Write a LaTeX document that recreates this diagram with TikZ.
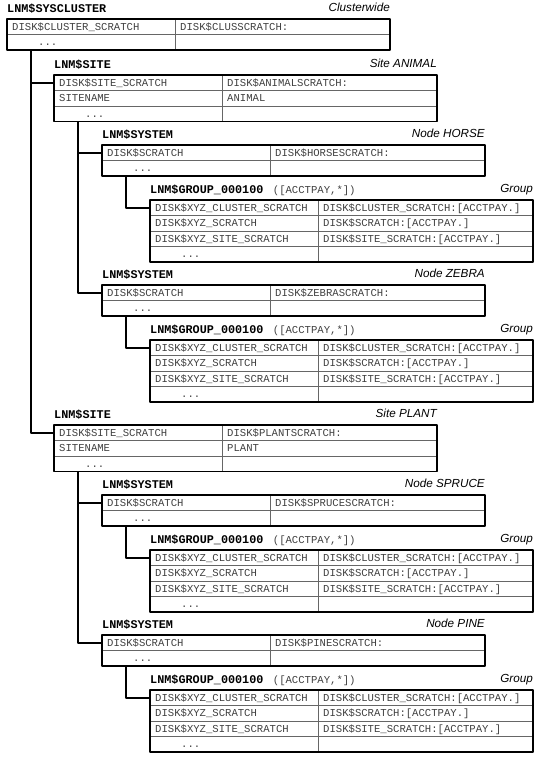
\documentclass[tikz,border=0pt]{standalone}
\usepackage{fontspec}
\setmonofont{Liberation Mono}
\setsansfont{Liberation Sans}
\usetikzlibrary{calc, positioning}
\definecolor{textgray}{gray}{0.25}
\definecolor{linegray}{gray}{0.4}

% one logical name table: name, top left, number of rows, entries, table name, scope
\newcommand{\lnmtab}[6]{%
  \coordinate (#1) at #2;
  \node[lnmhead] (#1-name) at ($(#1)+(0,-6.5)$) {#5};
  \node[scopelbl] (#1-scope) at ($(#1)+(383,-7.5)$) {#6};
  \foreach \lft/\rgt [count=\i] in {#4} {
    \node[cell] (#1-l\i) at ($(#1)+(5,{(\i-1)*15.5+11.3})$) {\lft};
    \node[cell] (#1-r\i) at ($(#1)+(173,{(\i-1)*15.5+11.3})$) {\rgt};
    \draw[rowline] ($(#1)+(0,{\i*15.5})$) -- ++(383,0);
  }
  \node[cell] (#1-dots) at ($(#1)+(31,{(#3-1)*15.5+11.3})$) {...};
  \draw[rowline] ($(#1)+(168,0)$) -- ++(0,{#3*15.5});
  \draw[tabframe] (#1) rectangle ++(383,{#3*15.5});
  \coordinate (#1-in) at ($(#1)+(0,7.75)$);
  \coordinate (#1-out) at ($(#1)+(24,{#3*15.5})$);
}

\begin{document}
\begin{tikzpicture}[x=1pt, y=-1pt, line join=round,
    cell/.style={anchor=base west, inner sep=0pt, text=textgray,
      font=\ttfamily\fontsize{10.6}{12}\selectfont},
    lnmhead/.style={anchor=base west, inner sep=0pt,
      font=\ttfamily\bfseries\fontsize{11.8}{13}\selectfont},
    scopelbl/.style={anchor=base east, inner sep=0pt,
      font=\sffamily\itshape\fontsize{11.7}{13}\selectfont},
    rowline/.style={line width=0.6pt, draw=linegray},
    tabframe/.style={line width=1.3pt},
    link/.style={line width=1.6pt}]
  \useasboundingbox (0,0) rectangle (549,759);

  % clusterwide table
  \lnmtab{cluster}{(7,19)}{2}{DISK\$CLUSTER\_SCRATCH/DISK\$CLUSSCRATCH:}{LNM\$SYSCLUSTER}{Clusterwide}

  % site ANIMAL
  \lnmtab{animal}{(54,75)}{3}{DISK\$SITE\_SCRATCH/DISK\$ANIMALSCRATCH:, SITENAME/ANIMAL}{LNM\$SITE}{Site ANIMAL}
  \lnmtab{horse}{(102,145)}{2}{DISK\$SCRATCH/DISK\$HORSESCRATCH:}{LNM\$SYSTEM}{Node HORSE}
  \lnmtab{horsegrp}{(150,200)}{4}{DISK\$XYZ\_CLUSTER\_SCRATCH/DISK\$CLUSTER\_SCRATCH:[ACCTPAY.],
    DISK\$XYZ\_SCRATCH/DISK\$SCRATCH:[ACCTPAY.],
    DISK\$XYZ\_SITE\_SCRATCH/DISK\$SITE\_SCRATCH:[ACCTPAY.]}{LNM\$GROUP\_000100}{Group}
  \lnmtab{zebra}{(102,285)}{2}{DISK\$SCRATCH/DISK\$ZEBRASCRATCH:}{LNM\$SYSTEM}{Node ZEBRA}
  \lnmtab{zebragrp}{(150,340)}{4}{DISK\$XYZ\_CLUSTER\_SCRATCH/DISK\$CLUSTER\_SCRATCH:[ACCTPAY.],
    DISK\$XYZ\_SCRATCH/DISK\$SCRATCH:[ACCTPAY.],
    DISK\$XYZ\_SITE\_SCRATCH/DISK\$SITE\_SCRATCH:[ACCTPAY.]}{LNM\$GROUP\_000100}{Group}

  % site PLANT
  \lnmtab{plant}{(54,425)}{3}{DISK\$SITE\_SCRATCH/DISK\$PLANTSCRATCH:, SITENAME/PLANT}{LNM\$SITE}{Site PLANT}
  \lnmtab{spruce}{(102,495)}{2}{DISK\$SCRATCH/DISK\$SPRUCESCRATCH:}{LNM\$SYSTEM}{Node SPRUCE}
  \lnmtab{sprucegrp}{(150,550)}{4}{DISK\$XYZ\_CLUSTER\_SCRATCH/DISK\$CLUSTER\_SCRATCH:[ACCTPAY.],
    DISK\$XYZ\_SCRATCH/DISK\$SCRATCH:[ACCTPAY.],
    DISK\$XYZ\_SITE\_SCRATCH/DISK\$SITE\_SCRATCH:[ACCTPAY.]}{LNM\$GROUP\_000100}{Group}
  \lnmtab{pine}{(102,635)}{2}{DISK\$SCRATCH/DISK\$PINESCRATCH:}{LNM\$SYSTEM}{Node PINE}
  \lnmtab{pinegrp}{(150,690)}{4}{DISK\$XYZ\_CLUSTER\_SCRATCH/DISK\$CLUSTER\_SCRATCH:[ACCTPAY.],
    DISK\$XYZ\_SCRATCH/DISK\$SCRATCH:[ACCTPAY.],
    DISK\$XYZ\_SITE\_SCRATCH/DISK\$SITE\_SCRATCH:[ACCTPAY.]}{LNM\$GROUP\_000100}{Group}

  % group identifiers
  \foreach \g in {horsegrp, zebragrp, sprucegrp, pinegrp}
    \node[cell, base right=9pt of \g-name] (\g-uic) {([ACCTPAY,*])};

  % tree links
  \draw[link] (cluster-out) |- (animal-in);
  \draw[link] (cluster-out) |- (plant-in);
  \draw[link] (animal-out) |- (horse-in);
  \draw[link] (animal-out) |- (zebra-in);
  \draw[link] (plant-out) |- (spruce-in);
  \draw[link] (plant-out) |- (pine-in);
  \draw[link] (horse-out) |- (horsegrp-in);
  \draw[link] (zebra-out) |- (zebragrp-in);
  \draw[link] (spruce-out) |- (sprucegrp-in);
  \draw[link] (pine-out) |- (pinegrp-in);
\end{tikzpicture}
\end{document}
